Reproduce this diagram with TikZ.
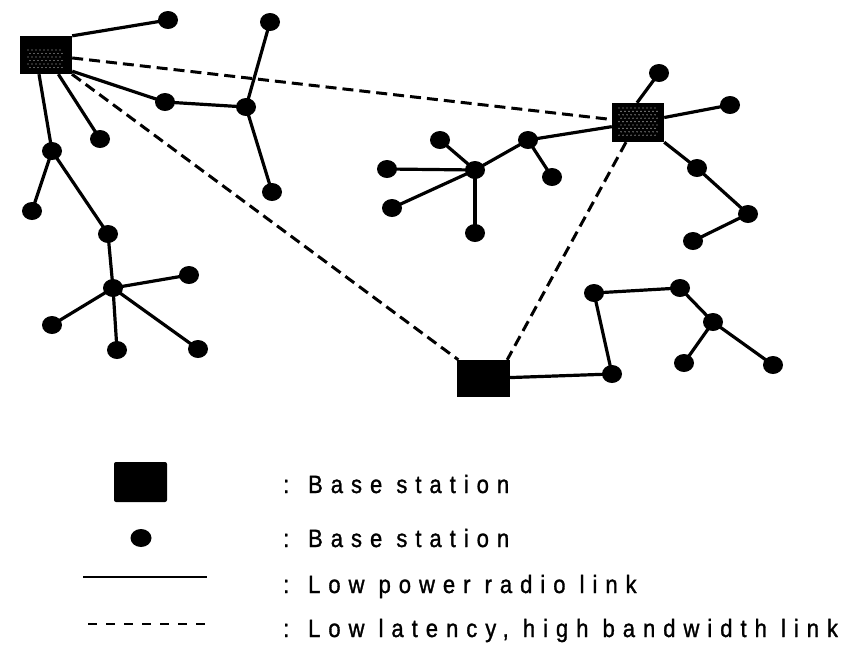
\documentclass[tikz,border=0pt]{standalone}
\usepackage{fontspec}
\newfontfamily\legendfont{Liberation Sans}[LetterSpace=32,FakeStretch=0.88,FakeBold=1.2]
\usetikzlibrary{shapes.geometric}
\pgfdeclarelayer{bg}
\pgfsetlayers{bg,main}
\begin{document}
\begin{tikzpicture}[x=1pt,y=-1pt,
  dotnode/.style={ellipse,fill=black,minimum width=20pt,minimum height=18pt,inner sep=0pt},
  basest/.style={rectangle,fill=black,minimum width=52pt,minimum height=38pt,inner sep=0pt},
  radio/.style={line width=3.2pt},
  fast/.style={line width=3pt,dash pattern=on 11pt off 6pt},
  legtext/.style={anchor=base west,inner sep=0pt,font=\legendfont\fontsize{25}{29}\selectfont},
  stip/.style={fill=gray!55}]
\useasboundingbox (0,0) rectangle (854,645);

% base stations
\node[basest] (bs1) at (46,55) {};
\node[basest,minimum height=39pt] (bs2) at (638,122.5) {};
\node[basest,minimum width=53pt,minimum height=37pt] (bs3) at (483.5,378.5) {};

% left cluster
\node[dotnode] (n1) at (168,20) {};
\node[dotnode] (n2) at (270,22) {};
\node[dotnode] (n3) at (165,102) {};
\node[dotnode] (n4) at (246,107) {};
\node[dotnode] (n5) at (272,192) {};
\node[dotnode] (n6) at (100,139) {};
\node[dotnode] (n7) at (52,151) {};
\node[dotnode] (n8) at (32,211) {};
\node[dotnode] (n9) at (108,234) {};
\node[dotnode] (n10) at (113,288) {};
\node[dotnode] (n11) at (189,275) {};
\node[dotnode] (n12) at (52,325) {};
\node[dotnode] (n13) at (117,350) {};
\node[dotnode] (n14) at (198,349) {};

% right cluster
\node[dotnode] (m1) at (659,73) {};
\node[dotnode] (m2) at (730,105) {};
\node[dotnode] (m3) at (528,140) {};
\node[dotnode] (m4) at (475,170) {};
\node[dotnode] (m5) at (440,140) {};
\node[dotnode] (m6) at (387,169) {};
\node[dotnode] (m7) at (392,208) {};
\node[dotnode] (m8) at (475,233) {};
\node[dotnode] (m9) at (552,177) {};
\node[dotnode] (m10) at (697,168) {};
\node[dotnode] (m11) at (748,214) {};
\node[dotnode] (m12) at (693,241) {};

% bottom cluster
\node[dotnode] (p1) at (612,374) {};
\node[dotnode] (p2) at (594,293) {};
\node[dotnode] (p3) at (680,288) {};
\node[dotnode] (p4) at (713,322) {};
\node[dotnode] (p5) at (684,363) {};
\node[dotnode] (p6) at (773,365) {};

\begin{pgfonlayer}{bg}
  % radio links
  \draw[radio] (bs1.north east) -- (n1.center);
  \draw[radio] ([yshift=3pt]bs1.south east) -- (n3.center);
  \draw[radio] (bs1) -- (n6.center);
  \draw[radio] ([xshift=-7pt]bs1.south) -- (n7.center);
  \draw[radio] (n2.center) -- (n4.center) -- (n5.center);
  \draw[radio] (n3.center) -- (n4.center);
  \draw[radio] (n8.center) -- (n7.center) -- (n9.center) -- (n10.center);
  \draw[radio] (n10.center) -- (n11.center);
  \draw[radio] (n10.center) -- (n12.center);
  \draw[radio] (n10.center) -- (n13.center);
  \draw[radio] (n10.center) -- (n14.center);

  \draw[radio] ([xshift=-1pt]bs2.north) -- (m1.center);
  \draw[radio] (bs2) -- (m2.center);
  \draw[radio] (bs2) -- (m3.center);
  \draw[radio] (m3.center) -- (m4.center);
  \draw[radio] (m3.center) -- (m9.center);
  \draw[radio] (m4.center) -- (m5.center);
  \draw[radio] (m4.center) -- (m6.center);
  \draw[radio] (m4.center) -- (m7.center);
  \draw[radio] (m4.center) -- (m8.center);
  \draw[radio] (bs2.south east) -- (m10.center) -- (m11.center) -- (m12.center);

  \draw[radio] (bs3) -- (p1.center) -- (p2.center) -- (p3.center) -- (p4.center) -- (p5.center);
  \draw[radio] (p4.center) -- (p6.center);

  % high bandwidth links
  \draw[fast] (bs1) -- (bs2);
  \draw[fast] (bs1) -- (bs3);
  \draw[fast] ([xshift=-12pt]bs2.south) -- ([xshift=-3pt]bs3.north east);
\end{pgfonlayer}

% stipple texture inside the two upper base stations
\foreach \i in {0,...,8}
  \foreach \j in {0,...,5}
    \fill[stip] ({28+\i*4+mod(\j,2)*2},{50+\j*3.5}) circle (0.7pt);
\foreach \i in {0,...,9}
  \foreach \j in {0,...,8}
    \fill[stip] ({619+\i*4+mod(\j,2)*2},{108+\j*3.4}) circle (0.7pt);

% legend
\node[basest,minimum width=53pt,minimum height=40pt,rounded corners=2pt] (lsq) at (140.5,482) {};
\node[dotnode,minimum width=21pt] (ldot) at (141,538) {};
\coordinate (la) at (83,577);
\coordinate (lb) at (207,577);
\draw[line width=2.8pt] (la) -- (lb);
\coordinate (lc) at (88,624);
\coordinate (ld) at (212,624);
\draw[line width=2.6pt,dash pattern=on 9pt off 9pt] (lc) -- (ld);

\node[legtext] (t1) at (283,493) {: Base station};
\node[legtext] (t2) at (283,547) {: Base station};
\node[legtext] (t3) at (283,593) {: Low power radio link};
\node[legtext] (t4) at (283,637) {: Low latency, high bandwidth link};
\end{tikzpicture}
\end{document}
